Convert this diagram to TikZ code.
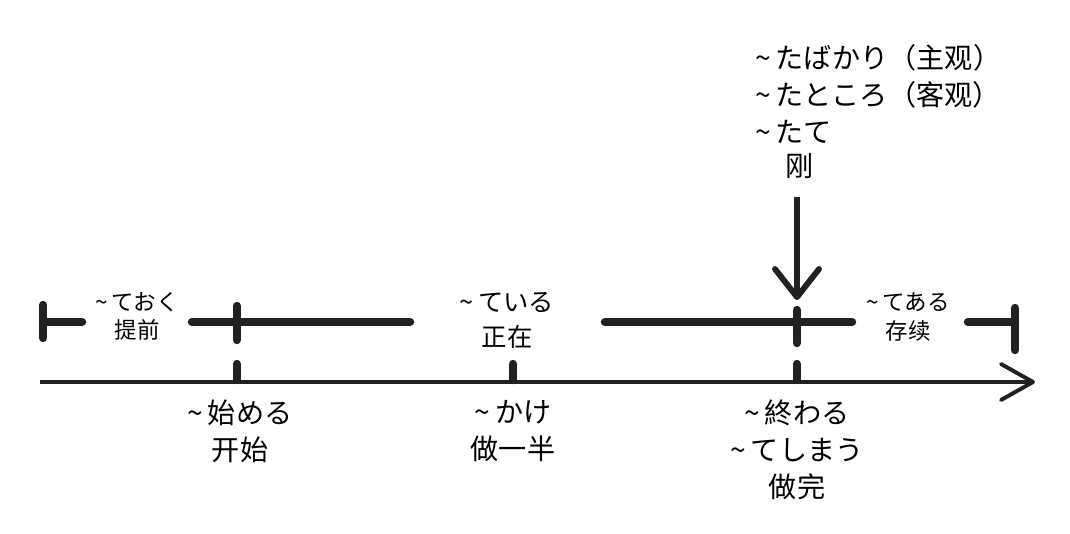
\documentclass[tikz,border=0pt]{standalone}
\usepackage{fontspec}
\setmainfont{Noto Sans CJK SC}
\usetikzlibrary{arrows.meta}
\tikzset{
  bar/.style={line width=6pt, line cap=round, black!87},
  axis/.style={line width=2.8pt, black!87, -{Straight Barb[length=0.8cm,width=0.9cm,round]}},
  pointer/.style={line width=4.2pt, black!87, -{Straight Barb[length=0.7cm,width=1.1cm,round]}},
  sml/.style={font=\fontsize{16}{20}\selectfont, align=center, inner sep=0pt},
  mid/.style={font=\fontsize{18}{25}\selectfont, align=center, inner sep=0pt},
  big/.style={font=\fontsize{20}{26.5}\selectfont, align=center, inner sep=0pt},
}
\newcommand{\tl}{\textasciitilde\,}
\begin{document}
\begin{tikzpicture}[x=0.025cm, y=-0.025cm]
  \useasboundingbox (0,0) rectangle (1070,533);
  \coordinate (start) at (40,382);
  \coordinate (end) at (1035,382);
  \draw[axis] (start) -- (end);
  \foreach \n/\x in {hajime/237, kake/513, owaru/797} {
    \coordinate (\n) at (\x,380);
    \draw[bar] (\n) -- ++(0,-16);
  }
  \draw[bar] (43,305) -- (43,338);
  \draw[bar] (43,322) -- (82,322);
  \draw[bar] (192,322) -- (410,322);
  \draw[bar] (237,306) -- (237,340);
  \draw[bar] (605,322) -- (852,322);
  \draw[bar] (797,310) -- (797,343);
  \draw[bar] (968,322) -- (1015,322);
  \draw[bar] (1015,308) -- (1015,350);
  \node[sml] (oku) at (137,316) {\tl ておく\\提前};
  \node[mid] (iru) at (507,320) {\tl ている\\正在};
  \node[sml] (aru) at (908,317) {\tl てある\\存续};
  \node[big] (hajimeL) at (240,431) {\tl 始める\\开始};
  \node[big] (kakeL) at (513,431) {\tl かけ\\做一半};
  \node[big] (owaruL) at (797,450) {\tl 終わる\\\tl てしまう\\做完};
  \node[big, align=left, anchor=west] (ta) at (755,94) {\tl たばかり（主观）\\\tl たところ（客观）\\\tl たて};
  \node[big] (gang) at (800,166) {刚};
  \coordinate (hit) at (797,300);
  \draw[pointer] (797,197) -- (hit);
\end{tikzpicture}
\end{document}
